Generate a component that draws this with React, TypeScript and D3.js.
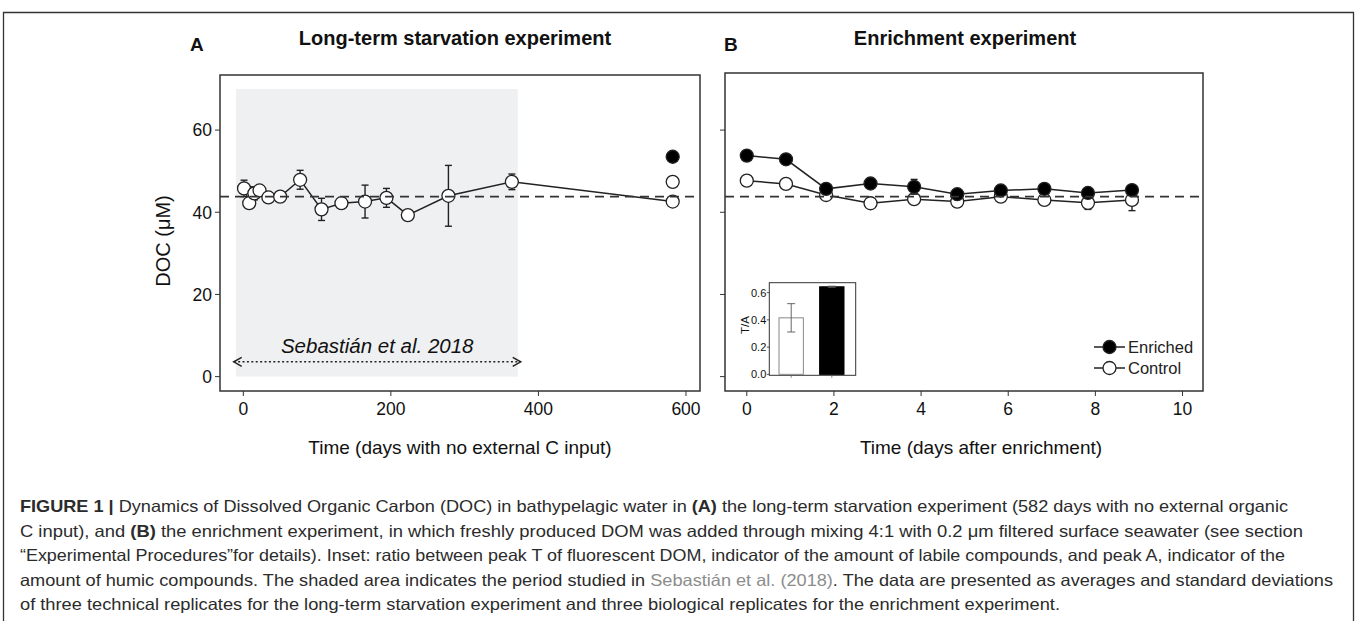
import React from 'react';
import * as d3 from 'd3';

// ---------- Panel A: long-term starvation (control, open circles) ----------
const aDays = [1, 8, 15, 22, 34, 50, 77, 106, 133, 165, 194, 223, 278, 364, 582];
const aDoc = [45.8, 42.2, 44.6, 45.3, 43.6, 43.8, 47.9, 40.7, 42.2, 42.6, 43.5, 39.3, 44.0, 47.4, 42.6];
const aSd = [2.0, 1.0, 1.6, 0.8, 1.0, 0.6, 2.3, 2.7, 0.8, 4.0, 2.3, 0.5, 7.4, 1.9, 0.5];
// start of the enrichment experiment, shown at day 582
const aExtraDays = [582, 582];
const aExtraDoc = [53.5, 47.4];
const aExtraFilled = [true, false];
const aTicksX = [0, 200, 400, 600];
const docTicks = [0, 20, 40, 60];
const refLine = 43.8;
const shadeDays = [-10, 372];
const shadeDoc = [0, 70];
const arrowDays = [-13, 376];
const arrowDoc = 3.6;

// ---------- Panel B: enrichment experiment ----------
const bDays = [0, 0.9, 1.82, 2.84, 3.84, 4.83, 5.83, 6.83, 7.83, 8.84];
const bEnriched = [53.8, 52.9, 45.7, 47.0, 46.2, 44.4, 45.3, 45.7, 44.7, 45.4];
const bEnrichedSd = [0.8, 0.6, 0.9, 0.7, 1.8, 0.6, 0.7, 0.5, 0.6, 0.6];
const bControl = [47.7, 46.9, 44.2, 42.2, 43.2, 42.6, 43.8, 43.0, 42.3, 43.0];
const bControlSd = [0.5, 0.6, 0.5, 0.5, 0.7, 0.8, 0.8, 0.6, 1.6, 2.6];
const bTicksX = [0, 2, 4, 6, 8, 10];

// ---------- Inset ----------
const insetCats = ['Control', 'Enriched'];
const insetVals = [0.415, 0.643];
const insetSd = [0.104, 0.004];
const insetTicks = [0.0, 0.2, 0.4, 0.6];

// ---------- Caption ----------
type Seg = { t: string; b?: boolean; g?: boolean };
const caption: Seg[][] = [
  [
    { t: 'FIGURE 1 |', b: true },
    { t: ' Dynamics of Dissolved Organic Carbon (DOC) in bathypelagic water in ' },
    { t: '(A)', b: true },
    { t: ' the long-term starvation experiment (582 days with no external organic' },
  ],
  [
    { t: 'C input), and ' },
    { t: '(B)', b: true },
    { t: ' the enrichment experiment, in which freshly produced DOM was added through mixing 4:1 with 0.2 \u03bcm filtered surface seawater (see section' },
  ],
  [{ t: '\u201cExperimental Procedures\u201dfor details). Inset: ratio between peak T of fluorescent DOM, indicator of the amount of labile compounds, and peak A, indicator of the' }],
  [
    { t: 'amount of humic compounds. The shaded area indicates the period studied in ' },
    { t: 'Sebasti\u00e1n et al. (2018)', g: true },
    { t: '. The data are presented as averages and standard deviations' },
  ],
  [{ t: 'of three technical replicates for the long-term starvation experiment and three biological replicates for the enrichment experiment.' }],
];
const captionWidths = [1268, 1283, 1265, 1313, 1040];

const FONT = '"Liberation Sans", Arial, Helvetica, sans-serif';
const INK = '#222';

function ErrBar({ x, y0, y1, cap = 7, sw = 1.4, color = INK }: any) {
  return (
    <g stroke={color} strokeWidth={sw}>
      <line x1={x} x2={x} y1={y0} y2={y1} />
      <line x1={x - cap / 2} x2={x + cap / 2} y1={y0} y2={y0} />
      <line x1={x - cap / 2} x2={x + cap / 2} y1={y1} y2={y1} />
    </g>
  );
}

export default function App() {
  const W = 1357;
  const H = 621;
  const A = { left: 220, right: 700, top: 75, bottom: 391 };
  const B = { left: 725, right: 1203, top: 73, bottom: 391 };
  const xA = d3.scaleLinear().domain([-31.6, 619]).range([A.left, A.right]);
  const yA = d3.scaleLinear().domain([-3.5, 73.4]).range([A.bottom, A.top]);
  const xB = d3.scaleLinear().domain([-0.5, 10.47]).range([B.left, B.right]);
  const yB = d3.scaleLinear().domain([-3.5, 73.9]).range([B.bottom, B.top]);
  const R = 6.5;

  const lineA = d3
    .line<number>()
    .x((_, i) => xA(aDays[i]))
    .y((d) => yA(d));
  const lineB = d3
    .line<number>()
    .x((_, i) => xB(bDays[i]))
    .y((d) => yB(d));

  // inset
  const I = { left: 769.3, right: 855.7, top: 282.7, bottom: 375.3 };
  const xI = d3.scaleBand<string>().domain(insetCats).range([779, 844]).paddingInner(0.4).paddingOuter(0);
  const yI = d3.scaleLinear().domain([-0.007, 0.673]).range([I.bottom, I.top]);

  const tickLen = 5;
  const sw = 1.5;

  return (
    <svg
      width={W}
      height={H}
      viewBox={`0 0 ${W} ${H}`}
      style={{ position: 'absolute', left: 0, top: 0, background: '#fff' }}
      fontFamily={FONT}
    >
      <rect x={0} y={0} width={W} height={H} fill="#fff" />
      {/* outer figure frame */}
      <path d={`M3.5,${H} L3.5,12.5 L1353.5,12.5 L1353.5,${H}`} fill="none" stroke="#333" strokeWidth={1.3} />

      {/* titles */}
      <text x={190} y={51} fontSize={19} fontWeight="bold" fill="#111">A</text>
      <text x={455} y={45} fontSize={20} fontWeight="bold" fill="#111" textAnchor="middle">Long-term starvation experiment</text>
      <text x={724} y={51} fontSize={19} fontWeight="bold" fill="#111">B</text>
      <text x={965} y={45} fontSize={20} fontWeight="bold" fill="#111" textAnchor="middle">Enrichment experiment</text>

      {/* ===== Panel A ===== */}
      <rect
        x={xA(shadeDays[0])}
        y={yA(shadeDoc[1])}
        width={xA(shadeDays[1]) - xA(shadeDays[0])}
        height={yA(shadeDoc[0]) - yA(shadeDoc[1])}
        fill="#eff0f2"
      />
      {/* arrow */}
      <g stroke="#222" strokeWidth={1.5} fill="none">
        <line x1={xA(arrowDays[0])} x2={xA(arrowDays[1])} y1={yA(arrowDoc)} y2={yA(arrowDoc)} strokeDasharray="2 2.4" />
        <path d={`M${xA(arrowDays[0]) + 8},${yA(arrowDoc) - 4.5} L${xA(arrowDays[0])},${yA(arrowDoc)} L${xA(arrowDays[0]) + 8},${yA(arrowDoc) + 4.5}`} />
        <path d={`M${xA(arrowDays[1]) - 8},${yA(arrowDoc) - 4.5} L${xA(arrowDays[1])},${yA(arrowDoc)} L${xA(arrowDays[1]) - 8},${yA(arrowDoc) + 4.5}`} />
      </g>
      <text
        x={(xA(arrowDays[0]) + xA(arrowDays[1])) / 2}
        y={353}
        fontSize={20.5}
        fontStyle="italic"
        textAnchor="middle"
        fill="#111"
      >
        Sebastián et al. 2018
      </text>

      {/* error bars A */}
      {aDoc.map((d, i) => (
        <ErrBar key={'ea' + i} x={xA(aDays[i])} y0={yA(d + aSd[i])} y1={yA(d - aSd[i])} />
      ))}
      <path d={lineA(aDoc) || ''} fill="none" stroke={INK} strokeWidth={sw} />
      {aDoc.map((d, i) => (
        <circle key={'ca' + i} cx={xA(aDays[i])} cy={yA(d)} r={R} fill="#fff" stroke={INK} strokeWidth={1.3} />
      ))}
      {aExtraDoc.map((d, i) => (
        <circle
          key={'cx' + i}
          cx={xA(aExtraDays[i])}
          cy={yA(d)}
          r={R}
          fill={aExtraFilled[i] ? '#000' : '#fff'}
          stroke={INK}
          strokeWidth={1.3}
        />
      ))}
      <line x1={A.left} x2={A.right} y1={yA(refLine)} y2={yA(refLine)} stroke="#333" strokeWidth={1.6} strokeDasharray="9 6" />

      {/* frame A */}
      <rect x={A.left} y={A.top} width={A.right - A.left} height={A.bottom - A.top} fill="none" stroke="#333" strokeWidth={sw} />
      {docTicks.map((t) => (
        <g key={'ya' + t}>
          <line x1={A.left - tickLen} x2={A.left} y1={yA(t)} y2={yA(t)} stroke="#333" strokeWidth={1} />
          <text x={A.left - 8} y={yA(t)} dy="0.36em" fontSize={17.5} textAnchor="end" fill="#111">{t}</text>
        </g>
      ))}
      {aTicksX.map((t) => (
        <g key={'xa' + t}>
          <line x1={xA(t)} x2={xA(t)} y1={A.bottom} y2={A.bottom + tickLen} stroke="#333" strokeWidth={1} />
          <text x={xA(t)} y={415} fontSize={17.5} textAnchor="middle" fill="#111">{t}</text>
        </g>
      ))}
      <text x={(A.left + A.right) / 2} y={454} fontSize={19} textAnchor="middle" fill="#111">Time (days with no external C input)</text>
      <text transform={`translate(170,241) rotate(-90)`} fontSize={20} textAnchor="middle" fill="#111">DOC (μM)</text>

      {/* ===== Panel B ===== */}
      {bControl.map((d, i) => (
        <ErrBar key={'ebc' + i} x={xB(bDays[i])} y0={yB(d + bControlSd[i])} y1={yB(d - bControlSd[i])} />
      ))}
      <path d={lineB(bControl) || ''} fill="none" stroke={INK} strokeWidth={sw} />
      {bControl.map((d, i) => (
        <circle key={'cbc' + i} cx={xB(bDays[i])} cy={yB(d)} r={R} fill="#fff" stroke={INK} strokeWidth={1.3} />
      ))}
      {bEnriched.map((d, i) => (
        <ErrBar key={'ebe' + i} x={xB(bDays[i])} y0={yB(d + bEnrichedSd[i])} y1={yB(d - bEnrichedSd[i])} />
      ))}
      <path d={lineB(bEnriched) || ''} fill="none" stroke={INK} strokeWidth={sw} />
      {bEnriched.map((d, i) => (
        <circle key={'cbe' + i} cx={xB(bDays[i])} cy={yB(d)} r={R} fill="#000" stroke={INK} strokeWidth={1.3} />
      ))}
      <line x1={B.left} x2={B.right} y1={yB(refLine)} y2={yB(refLine)} stroke="#333" strokeWidth={1.6} strokeDasharray="9 6" />

      {/* inset */}
      <rect x={I.left} y={I.top} width={I.right - I.left} height={I.bottom - I.top} fill="#fff" stroke="#333" strokeWidth={1} />
      {insetCats.map((c, i) => (
        <rect
          key={'ib' + c}
          x={xI(c)!}
          y={yI(insetVals[i])}
          width={xI.bandwidth()}
          height={yI(0) - yI(insetVals[i])}
          fill={i === 0 ? '#fff' : '#000'}
          stroke={i === 0 ? '#888' : '#000'}
          strokeWidth={1}
        />
      ))}
      {insetCats.map((c, i) => (
        <ErrBar
          key={'ie' + c}
          x={xI(c)! + xI.bandwidth() / 2}
          y0={yI(insetVals[i] + insetSd[i])}
          y1={yI(insetVals[i] - insetSd[i])}
          cap={8}
          sw={1}
          color={i === 0 ? '#666' : '#555'}
        />
      ))}
      {insetCats.map((c) => (
        <line
          key={'it' + c}
          x1={xI(c)! + xI.bandwidth() / 2}
          x2={xI(c)! + xI.bandwidth() / 2}
          y1={I.bottom}
          y2={I.bottom + 2.5}
          stroke="#666"
          strokeWidth={0.8}
        />
      ))}
      {insetTicks.map((t) => (
        <g key={'iy' + t}>
          <line x1={I.left - 2.5} x2={I.left} y1={yI(t)} y2={yI(t)} stroke="#333" strokeWidth={0.8} />
          <text x={I.left - 3} y={yI(t)} dy="0.36em" fontSize={11} textAnchor="end" fill="#111">{t.toFixed(1)}</text>
        </g>
      ))}
      <text transform={`translate(749,325) rotate(-90)`} fontSize={11.5} textAnchor="middle" fill="#111">T/A</text>

      {/* legend */}
      {[
        { label: 'Enriched', fill: '#000', y: 347 },
        { label: 'Control', fill: '#fff', y: 368 },
      ].map((l) => (
        <g key={l.label}>
          <line x1={1094} x2={1125} y1={l.y} y2={l.y} stroke={INK} strokeWidth={sw} />
          <circle cx={1109.5} cy={l.y} r={R} fill={l.fill} stroke={INK} strokeWidth={1.3} />
          <text x={1128} y={l.y} dy="0.36em" fontSize={16.5} fill="#222">{l.label}</text>
        </g>
      ))}

      {/* frame B */}
      <rect x={B.left} y={B.top} width={B.right - B.left} height={B.bottom - B.top} fill="none" stroke="#333" strokeWidth={sw} />
      {docTicks.map((t) => (
        <line key={'yb' + t} x1={B.left - tickLen} x2={B.left} y1={yB(t)} y2={yB(t)} stroke="#333" strokeWidth={1} />
      ))}
      {bTicksX.map((t) => (
        <g key={'xb' + t}>
          <line x1={xB(t)} x2={xB(t)} y1={B.bottom} y2={B.bottom + tickLen} stroke="#333" strokeWidth={1} />
          <text x={xB(t)} y={415} fontSize={17.5} textAnchor="middle" fill="#111">{t}</text>
        </g>
      ))}
      <text x={981} y={454} fontSize={19} textAnchor="middle" fill="#111">Time (days after enrichment)</text>

      {/* caption */}
      {caption.map((segs, li) => (
        <text
          key={'cap' + li}
          x={20}
          y={512 + li * 24.6}
          fontSize={16.5}
          fill="#2b2b2b"
          textLength={captionWidths[li]}
          lengthAdjust="spacingAndGlyphs"
        >
          {segs.map((s, si) => (
            <tspan key={si} fontWeight={s.b ? 'bold' : 'normal'} fill={s.g ? '#8c8c8c' : undefined}>
              {s.t}
            </tspan>
          ))}
        </text>
      ))}
    </svg>
  );
}
